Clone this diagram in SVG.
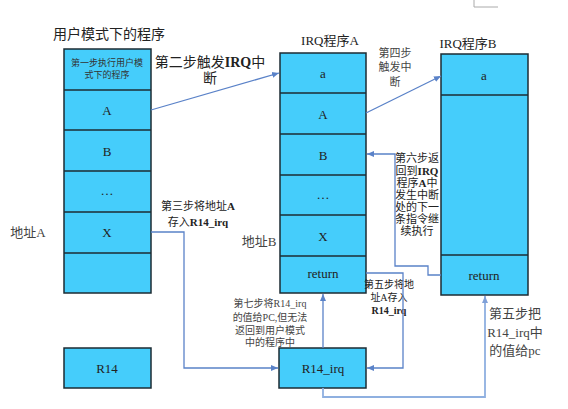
<svg xmlns="http://www.w3.org/2000/svg" width="568" height="409" viewBox="0 0 568 409">
<style>
.box{fill:#45cdfb;stroke:#1c2b33;stroke-width:1.5}
.sep{stroke:#1c2b33;stroke-width:1.5}
text{font-family:"Liberation Serif","Noto Sans CJK SC",serif;fill:#222;text-anchor:middle;dominant-baseline:central}
.t13{font-size:13px}
.t14{font-size:14px}
.t11{font-size:11px}
.t10{font-size:10px}
.t9{font-size:9px;fill:#333}
.g{fill:#444}
.b{font-weight:bold}
.c{fill:none;stroke:#5a82c8;stroke-width:1.3}
.cl{fill:none;stroke:#8fb0e0;stroke-width:1.8}
</style>
<defs>
<marker id="ah" markerWidth="8" markerHeight="8" refX="7" refY="4" orient="auto" markerUnits="userSpaceOnUse">
<path d="M0,1 L7,4 L0,7 Z" fill="#5a82c8"/>
</marker>
<marker id="ahl" markerWidth="8" markerHeight="8" refX="7" refY="4" orient="auto" markerUnits="userSpaceOnUse">
<path d="M0,1 L7,4 L0,7 Z" fill="#7fa0d8"/>
</marker>
</defs>
<path d="M474,0 V7 H498" fill="none" stroke="#aaa" stroke-width="1"/>

<g id="user-program">
<text class="t14" x="109" y="34">用户模式下的程序</text>
<rect class="box" x="64" y="49" width="87" height="244"/>
<line class="sep" x1="64" y1="90" x2="151" y2="90"/>
<line class="sep" x1="64" y1="130" x2="151" y2="130"/>
<line class="sep" x1="64" y1="171" x2="151" y2="171"/>
<line class="sep" x1="64" y1="212" x2="151" y2="212"/>
<line class="sep" x1="64" y1="253" x2="151" y2="253"/>
<text class="t9" x="107" y="63">第一步执行用户模</text>
<text class="t9" x="107" y="75">式下的程序</text>
<text class="t13" x="107" y="110">A</text>
<text class="t13" x="107" y="151">B</text>
<text class="t13" x="107" y="190">…</text>
<text class="t13" x="107" y="232">X</text>
</g>

<g id="r14">
<rect class="box" x="64" y="348" width="87" height="40"/>
<text class="t13" x="107" y="368">R14</text>
</g>

<g id="irq-a">
<text class="t13" x="330" y="40">IRQ程序A</text>
<rect class="box" x="280" y="53" width="86" height="240"/>
<line class="sep" x1="280" y1="93" x2="366" y2="93"/>
<line class="sep" x1="280" y1="134" x2="366" y2="134"/>
<line class="sep" x1="280" y1="175" x2="366" y2="175"/>
<line class="sep" x1="280" y1="215" x2="366" y2="215"/>
<line class="sep" x1="280" y1="256" x2="366" y2="256"/>
<text class="t13" x="323" y="73">a</text>
<text class="t13" x="323" y="114">A</text>
<text class="t13" x="323" y="155">B</text>
<text class="t13" x="323" y="194">…</text>
<text class="t13" x="323" y="236">X</text>
<text class="t13" x="323" y="273">return</text>
</g>

<g id="r14-irq">
<rect class="box" x="279" y="348" width="87" height="40"/>
<text class="t13" x="323" y="368">R14_irq</text>
</g>

<g id="irq-b">
<text class="t13" x="468" y="43">IRQ程序B</text>
<rect class="box" x="441" y="54" width="87" height="241"/>
<line class="sep" x1="441" y1="95" x2="528" y2="95"/>
<line class="sep" x1="441" y1="255" x2="528" y2="255"/>
<text class="t13" x="484" y="75">a</text>
<text class="t13" x="484" y="275">return</text>
</g>

<g id="labels">
<text class="t13 g" x="28" y="232">地址A</text>
<text class="t13 g" x="259" y="241">地址B</text>
<text class="t14" x="210" y="62">第二步触发<tspan class="b">IRQ</tspan>中</text>
<text class="t14" x="210" y="78">断</text>
<text class="t11 g" x="395" y="53">第四步</text>
<text class="t11 g" x="395" y="67">触发中</text>
<text class="t11 g" x="395" y="82">断</text>
<text class="t11" x="198" y="206">第三步将地址<tspan class="b">A</tspan></text>
<text class="t11" x="198" y="222">存入<tspan class="b">R14_irq</tspan></text>
<text class="t11" x="417" y="158">第六步返</text>
<text class="t11" x="417" y="171">回到<tspan class="b">IRQ</tspan></text>
<text class="t11" x="417" y="183">程序<tspan class="b">A</tspan>中</text>
<text class="t11" x="417" y="195">发生中断</text>
<text class="t11" x="417" y="207">处的下一</text>
<text class="t11" x="417" y="219">条指令继</text>
<text class="t11" x="417" y="231">续执行</text>
<text class="t10" x="389" y="284">第五步将地</text>
<text class="t10" x="389" y="297">址A存入</text>
<text class="t10 b" x="389" y="310">R14_irq</text>
<text class="t10 g" x="270" y="303">第七步将R14_irq</text>
<text class="t10 g" x="270" y="317">的值给PC,但无法</text>
<text class="t10 g" x="270" y="330">返回到用户模式</text>
<text class="t10 g" x="270" y="342">中的程序中</text>
<text class="t13 g" x="515" y="313">第五步把</text>
<text class="t13 g" x="515" y="332">R14_irq中</text>
<text class="t13 g" x="515" y="350">的值给pc</text>
</g>

<g id="connectors">
<path class="c" d="M151,110 L279,73" marker-end="url(#ah)"/>
<path class="c" d="M366,113 L441,76" marker-end="url(#ah)"/>
<path class="c" d="M151,232 H184 V368 H278" marker-end="url(#ah)"/>
<path class="c" d="M441,275 H428 V266 H395 V154 H367" marker-end="url(#ah)"/>
<path class="c" d="M366,273 H403 V368 H367" marker-end="url(#ah)"/>
<path class="c" d="M323,348 V294" marker-end="url(#ah)"/>
<path class="cl" d="M323,388 V397 H485 V296" marker-end="url(#ahl)"/>
</g>
</svg>
